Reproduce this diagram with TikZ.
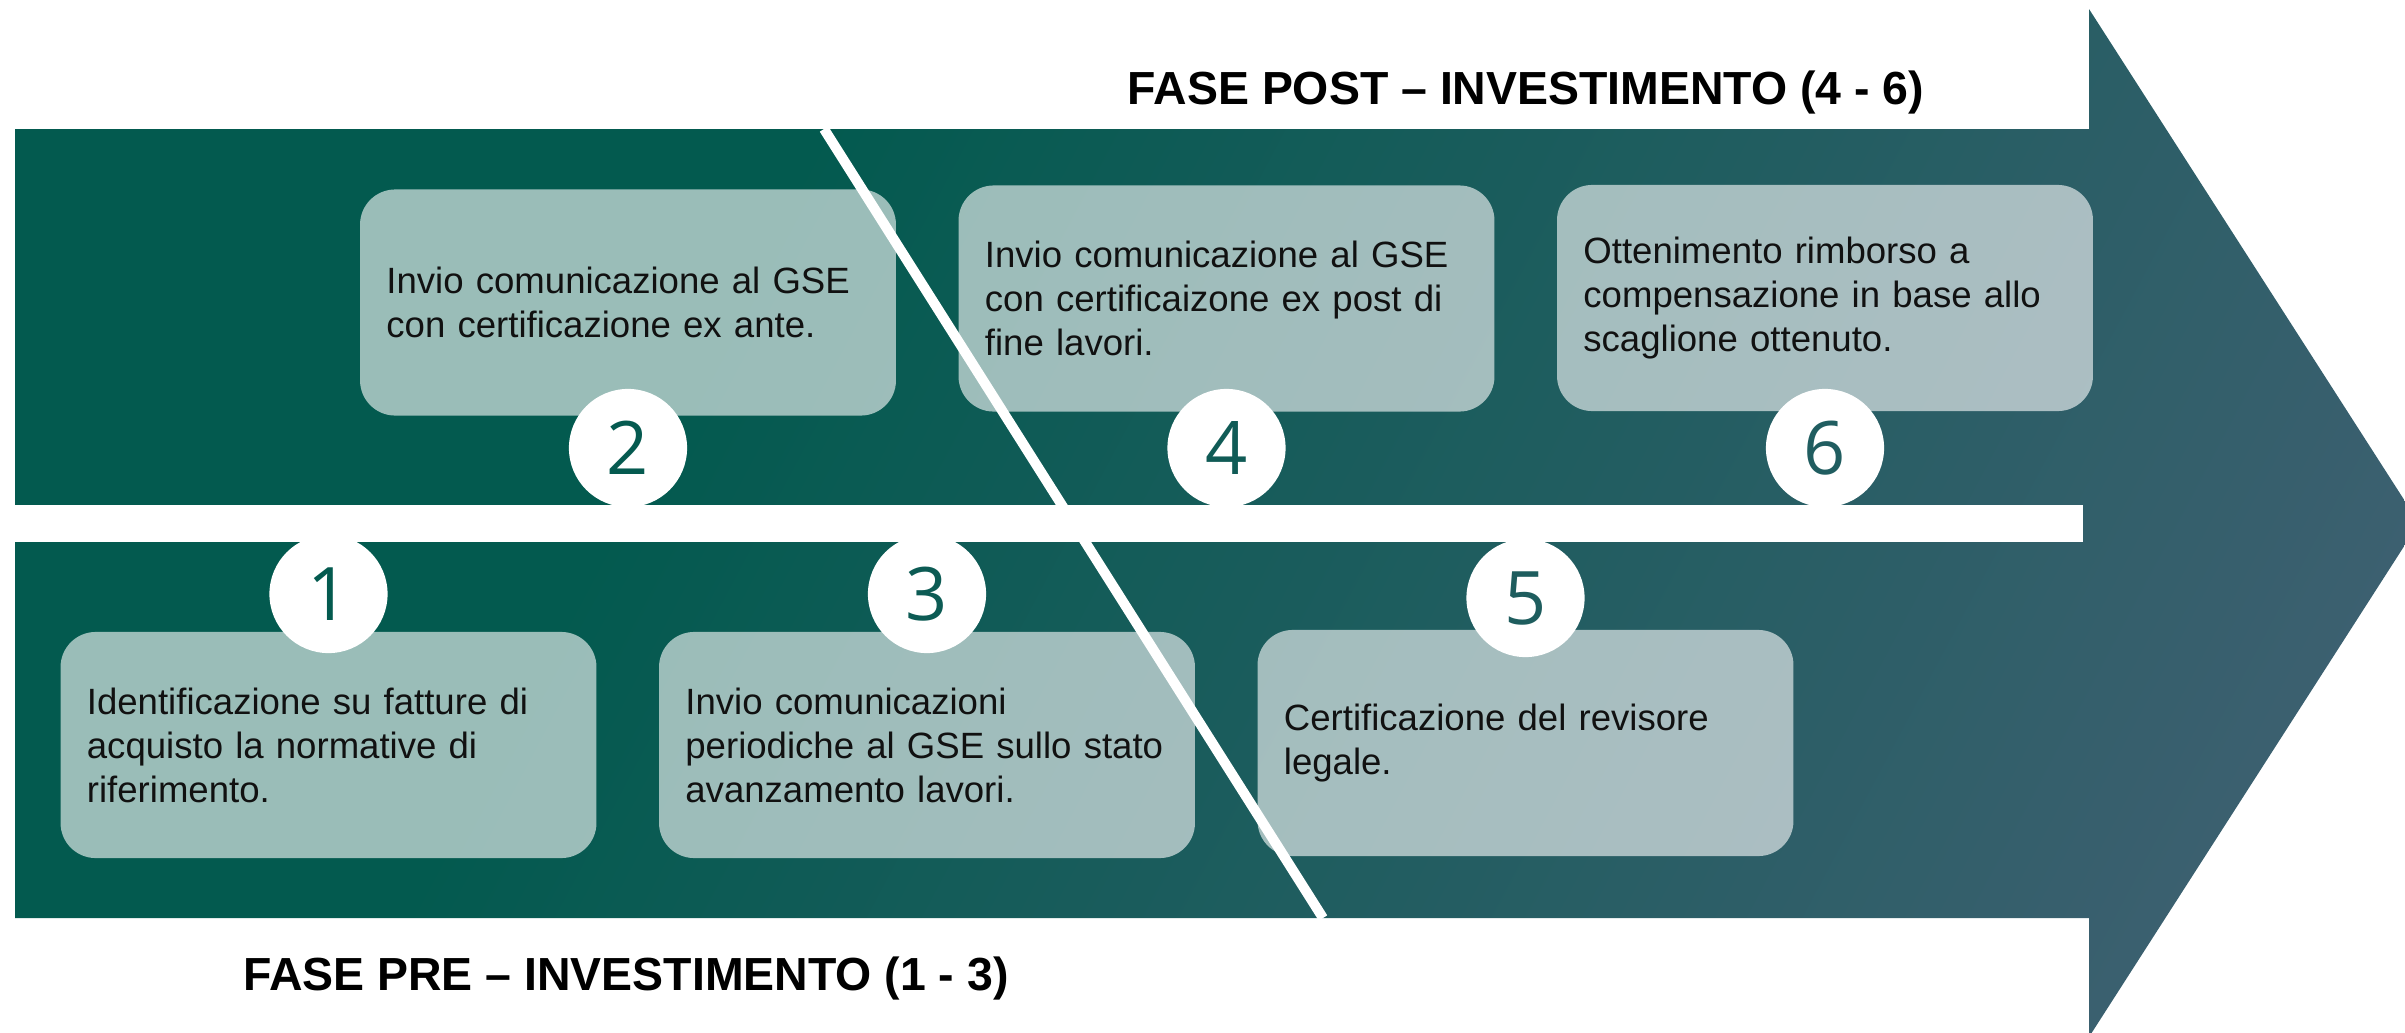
\documentclass[tikz,border=0pt]{standalone}
\usepackage{fontspec}
\setmainfont{Liberation Sans}
\newfontfamily\digitfont{Open Sans}
\usetikzlibrary{positioning}

\definecolor{fasedark}{RGB}{3,90,79}
\definecolor{faseslate}{RGB}{62,96,113}
\definecolor{fasetext}{RGB}{17,17,17}
\pgfdeclarehorizontalshading{fasefade}{100bp}{color(0bp)=(fasedark); color(36bp)=(fasedark); color(79bp)=(faseslate); color(100bp)=(faseslate)}

\tikzset{
  stepbox/.style={rectangle, rounded corners=10pt, fill=white, fill opacity=0.6, text opacity=1, text=fasetext,
    text width=137.4pt, inner xsep=7.5pt, inner ysep=0pt, minimum height=64.3pt, align=left,
    font=\fontsize{10.4}{12.5}\selectfont},
  stepnum/.style={circle, fill=white, minimum size=33.6pt, inner sep=0pt,
    font=\digitfont\fontsize{21}{21}\selectfont, text=fasedark!#1!faseslate},
  phasetitle/.style={anchor=base, font=\bfseries\fontsize{13.2}{15}\selectfont, text=black}
}

\begin{document}
\begin{tikzpicture}[x=0.01cm, y=-0.01cm]
    \useasboundingbox (0,0) rectangle (2405,1033);
    % big arrow
    \shade[shading=fasefade, shading angle=-28] (15,129) -- (2089,129) -- (2089,9) -- (2419,523)
        -- (2089,1037) -- (2089,918) -- (15,918) -- cycle;
    \fill[white] (0,505) rectangle (2083,542);
    % steps
    \path (628, 302.5) node [stepbox] (b2) {Invio comunicazione al GSE\\con certificazione ex ante.};
    \path (1226.5, 298.5) node [stepbox] (b4) {Invio comunicazione al GSE\\con certificaizone ex post di\\fine lavori.};
    \path (1825, 298) node [stepbox] (b6) {Ottenimento rimborso a\\compensazione in base allo\\scaglione ottenuto.};
    \path (328.5, 745) node [stepbox] (b1) {Identificazione su fatture di\\acquisto la normative di\\riferimento.};
    \path (927, 745) node [stepbox] (b3) {Invio comunicazioni\\periodiche al GSE sullo stato\\avanzamento lavori.};
    \path (1525.5, 743) node [stepbox] (b5) {Certificazione del revisore\\legale.};
    % pre / post cut
    \coordinate (cuttop) at (824,129);
    \coordinate (cutbot) at (1323,918);
    \draw [white, line width=2.85pt] (cuttop) -- (cutbot);
    % numbers
    \path (328.5, 594) node [stepnum=100] (n1) {1};
    \path (628, 448) node [stepnum=97] (n2) {2};
    \path (927, 594) node [stepnum=85] (n3) {3};
    \path (1226.5, 448) node [stepnum=78] (n4) {4};
    \path (1525.5, 598) node [stepnum=55] (n5) {5};
    \path (1825, 448) node [stepnum=50] (n6) {6};
    % titles
    \path (1526, 104) node [phasetitle] (post) {FASE POST – INVESTIMENTO (4 - 6)};
    \path (626, 990) node [phasetitle] (pre) {FASE PRE – INVESTIMENTO (1 - 3)};
\end{tikzpicture}
\end{document}
